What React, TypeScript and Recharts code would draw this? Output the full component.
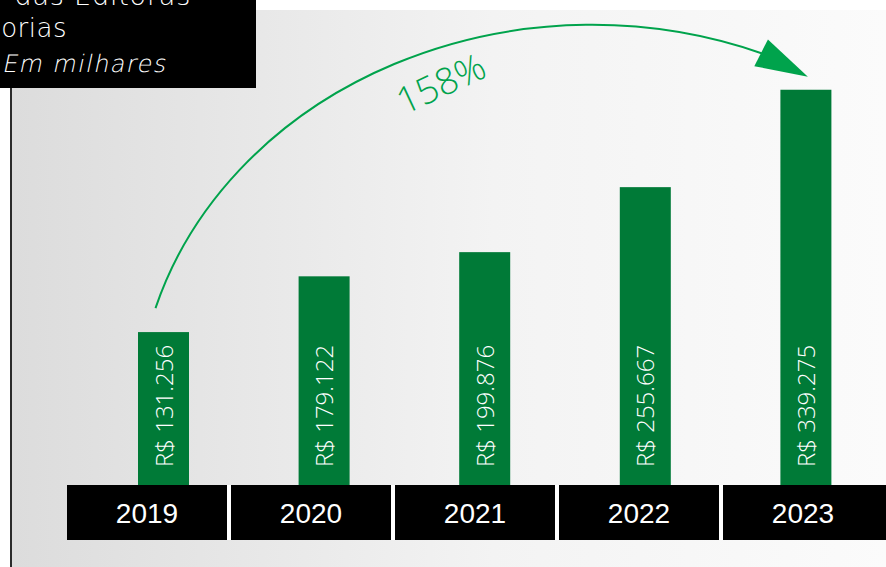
import React from "react";
import { BarChart, Bar, XAxis, YAxis } from "recharts";

const YEARS = ["2019", "2020", "2021", "2022", "2023"];
const REVENUE = [131256, 179122, 199876, 255667, 339275];
const GROWTH_LABEL = "158%";
const TITLE_LINES = ["das Editoras", "orias"];
const SUBTITLE = "Em milhares";

const data = YEARS.map((year, i) => ({ year, revenue: REVENUE[i] }));

const W = 886;
const H = 567;
const MARGIN = { top: 19, right: 0, bottom: 27, left: 66 };
const BAND = (W - MARGIN.left - MARGIN.right) / YEARS.length;
const BAR_GREEN = "#007a37";
const ARROW_GREEN = "#00a34c";
const THIN = "'Open Sans', 'DejaVu Sans', sans-serif";
const WIDE = "'DejaVu Sans', 'Open Sans', sans-serif";

const fmt = (v: number) => "R$ " + String(v).replace(/\B(?=(\d{3})+(?!\d))/g, ".");

function YearTick(props: any) {
  const { x, y, payload, index } = props;
  const last = index === YEARS.length - 1;
  return (
    <g>
      <rect x={x - BAND / 2 + 1} y={y} width={BAND - (last ? 0 : 4)} height={55} fill="#000" />
      {!last && <rect x={x + BAND / 2 - 3} y={y} width={5} height={55} fill="#fff" />}
      <text
        x={x - 1}
        y={y + 38}
        textAnchor="middle"
        fill="#fff"
        fontSize={28}
        fontFamily="'Liberation Sans', Arial, sans-serif"
      >
        {payload.value}
      </text>
    </g>
  );
}

export default function App() {
  // bar geometry collected while the shapes render, used for the growth arrow
  const geo: Record<number, { cx: number; top: number }> = {};

  const barShape = (p: any) => {
    const { x, y, width, height, index, value } = p;
    const cx = x + width / 2;
    const bottom = y + height;
    geo[index] = { cx, top: y };
    const v = Array.isArray(value) ? value[1] - value[0] : value;
    let arrow = null;
    if (index === YEARS.length - 1 && geo[0]) {
      const sx = geo[0].cx - 8;
      const sy = geo[0].top - 24;
      const tipX = cx + 2;
      const tipY = y - 13;
      const ex = tipX - 45;
      const ey = tipY - 23;
      // arrow head
      const dx = tipX - ex;
      const dy = tipY - ey;
      const len = Math.hypot(dx, dy);
      const nx = -dy / len;
      const ny = dx / len;
      const hw = 15;
      const bx = ex - (dx / len) * 2;
      const by = ey - (dy / len) * 2;
      const lx = sx + (ex - sx) * 0.47;
      arrow = (
        <g>
          <path
            d={`M ${sx} ${sy} A 455 395 0 0 1 ${ex} ${ey}`}
            fill="none"
            stroke={ARROW_GREEN}
            strokeWidth={2}
          />
          <polygon
            points={`${tipX},${tipY} ${bx + nx * hw},${by + ny * hw} ${bx - nx * hw},${by - ny * hw}`}
            fill={ARROW_GREEN}
          />
          <text
            x={lx}
            y={ey + 43}
            textAnchor="middle"
            fill={ARROW_GREEN}
            fontSize={37}
            fontWeight={300}
            fontFamily={THIN}
            transform={`rotate(-25, ${lx}, ${ey + 30})`}
          >
            {GROWTH_LABEL}
          </text>
        </g>
      );
    }
    const lx = cx + 9;
    const ly = bottom - 18;
    return (
      <g>
        <rect x={x} y={y} width={width} height={height} fill={BAR_GREEN} />
        <text
          x={lx}
          y={ly}
          fill="#fff"
          fontSize={24}
          fontWeight={300}
          fontFamily={THIN}
          transform={`rotate(-90, ${lx}, ${ly})`}
        >
          {fmt(v)}
        </text>
        {arrow}
      </g>
    );
  };

  return (
    <div
      style={{
        position: "absolute",
        left: 0,
        top: 0,
        width: W,
        height: H,
        background: "#fff",
        overflow: "hidden",
      }}
    >
      <div
        style={{
          position: "absolute",
          left: 12,
          top: 10,
          right: 0,
          bottom: 0,
          background: "linear-gradient(to right, #dcdcdc, #f3f3f3 55%, #fbfbfb)",
        }}
      />
      <div style={{ position: "absolute", left: 10, top: 0, width: 2, bottom: 0, background: "#2b2b2b" }} />
      <div style={{ position: "absolute", left: 0, top: 0 }}>
        <BarChart width={W} height={H} data={data} margin={MARGIN}>
          <XAxis xAxisId="a" dataKey="year" hide height={0} padding={{ left: 17, right: 0 }} />
          <XAxis
            xAxisId="b"
            dataKey="year"
            height={55}
            axisLine={false}
            tickLine={false}
            tickSize={0}
            tickMargin={0}
            interval={0}
            tick={<YearTick />}
          />
          <YAxis hide domain={[0, 400000]} />
          <Bar
            xAxisId="a"
            dataKey="revenue"
            barSize={51}
            fill={BAR_GREEN}
            shape={barShape}
            isAnimationActive={false}
          />
        </BarChart>
      </div>
      <svg width={256} height={88} style={{ position: "absolute", left: 0, top: 0 }}>
        <rect x={0} y={0} width={256} height={88} fill="#000" />
        <text x={191} y={5} textAnchor="end" fill="#fff" fontSize={27} fontWeight={200} letterSpacing={0.8} fontFamily={WIDE}>
          {TITLE_LINES[0]}
        </text>
        <text x={67} y={37} textAnchor="end" fill="#fff" fontSize={26} fontWeight={200} letterSpacing={0.5} fontFamily={WIDE}>
          {TITLE_LINES[1]}
        </text>
        <text
          x={17}
          y={72}
          fill="#fff"
          fontSize={24}
          fontWeight={200}
          letterSpacing={1.4}
          fontFamily={WIDE}
          transform="skewX(-12)"
        >
          {SUBTITLE}
        </text>
      </svg>
    </div>
  );
}
